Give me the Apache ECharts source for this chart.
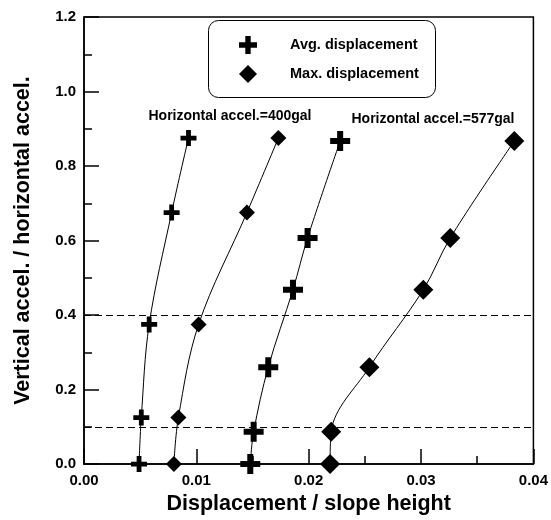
<!DOCTYPE html>
<html>
<head>
<meta charset="utf-8">
<script src="https://cdn.jsdelivr.net/npm/echarts@6/dist/echarts.min.js"></script>
<style>
  html, body { margin: 0; padding: 0; background: #fff; }
  #chart { width: 551px; height: 520px; }
</style>
</head>
<body>
<div id="chart"></div>
<script>
// Vertical / horizontal acceleration ratios of each shaking case
const ratio400 = [0, 0.125, 0.375, 0.675, 0.875];
const ratio577 = [0, 0.0867, 0.26, 0.468, 0.607, 0.867];

// Normalised displacement (displacement / slope height)
const avg400 = [0.0049, 0.0051, 0.0058, 0.0078, 0.0093];
const max400 = [0.0080, 0.0084, 0.0102, 0.0145, 0.0173];
const avg577 = [0.0148, 0.0151, 0.0164, 0.0186, 0.0199, 0.0228];
const max577 = [0.0219, 0.0220, 0.0254, 0.0302, 0.0326, 0.0383];

// Dashed reference levels
const refLevels = [0.1, 0.4];

const seriesNames = ['Avg. displacement', 'Max. displacement'];
const caseLabels = ['Horizontal accel.=400gal', 'Horizontal accel.=577gal'];

const FONT = '"Liberation Sans", Arial, Helvetica, sans-serif';
const PLUS = 'path://M35,0H65V35H100V65H65V100H35V65H0V35H35Z';

const pairs = (xs, ys) => xs.map((x, i) => [x, ys[i]]);

function curve(name, xs, ys, symbol, size, extra) {
  return Object.assign({
    name: name,
    type: 'line',
    data: pairs(xs, ys),
    smooth: 0.35,
    symbol: symbol,
    symbolSize: size,
    showAllSymbol: true,
    itemStyle: { color: '#000' },
    lineStyle: { color: '#000', width: 1 },
    z: 3
  }, extra || {});
}

const chart = echarts.init(document.getElementById('chart'), null, { renderer: 'canvas' });

chart.setOption({
  animation: false,
  backgroundColor: '#fff',
  textStyle: { fontFamily: FONT, color: '#000' },
  grid: {
    left: 84, right: 17, top: 17, bottom: 50,
    show: true, borderColor: '#000', borderWidth: 1.5, backgroundColor: 'transparent'
  },
  xAxis: {
    type: 'value',
    min: 0, max: 0.04, interval: 0.01,
    name: 'Displacement / slope height',
    nameLocation: 'middle',
    nameGap: 28,
    nameTextStyle: { fontFamily: FONT, fontWeight: 'bold', fontSize: 21.5, color: '#000' },
    axisLine: { show: true, onZero: false, lineStyle: { color: '#000', width: 1.5 } },
    axisTick: { show: true, inside: true, length: 15, lineStyle: { color: '#000', width: 1.5 } },
    minorTick: { show: true, splitNumber: 2, length: 8, lineStyle: { color: '#000', width: 1.5 } },
    splitLine: { show: false },
    axisLabel: {
      margin: 9, fontFamily: FONT, fontWeight: 'bold', fontSize: 15, color: '#000',
      formatter: v => v.toFixed(2)
    }
  },
  yAxis: {
    type: 'value',
    min: 0, max: 1.2, interval: 0.2,
    name: 'Vertical accel. / horizontal accel.',
    nameLocation: 'middle',
    nameGap: 50,
    nameTextStyle: { fontFamily: FONT, fontWeight: 'bold', fontSize: 21.5, color: '#000' },
    axisLine: { show: true, onZero: false, lineStyle: { color: '#000', width: 1.5 } },
    axisTick: { show: true, inside: true, length: 15, lineStyle: { color: '#000', width: 1.5 } },
    minorTick: { show: true, splitNumber: 2, length: 8, lineStyle: { color: '#000', width: 1.5 } },
    splitLine: { show: false },
    axisLabel: {
      margin: 8, fontFamily: FONT, fontWeight: 'bold', fontSize: 15, color: '#000',
      formatter: v => v.toFixed(1)
    }
  },
  legend: {
    orient: 'vertical',
    left: 239, top: 36,
    padding: 0,
    itemWidth: 18, itemHeight: 18, itemGap: 11,
    selectedMode: false,
    textStyle: { fontFamily: FONT, fontWeight: 'bold', fontSize: 14.5, color: '#000', padding: [0, 0, 0, 28] },
    data: [
      { name: seriesNames[0], icon: PLUS },
      { name: seriesNames[1], icon: 'diamond' }
    ]
  },
  graphic: [
    {
      type: 'rect', left: 208, top: 20, z: 1, silent: true,
      shape: { width: 227, height: 77, r: 10 },
      style: { fill: '#fff', stroke: '#000', lineWidth: 1 }
    },
    {
      type: 'text', x: 230, y: 116.5, z: 5, silent: true,
      style: { text: caseLabels[0], font: 'bold 14px ' + FONT, fill: '#000', align: 'center', verticalAlign: 'middle' }
    },
    {
      type: 'text', x: 433, y: 119, z: 5, silent: true,
      style: { text: caseLabels[1], font: 'bold 14px ' + FONT, fill: '#000', align: 'center', verticalAlign: 'middle' }
    }
  ],
  series: [
    curve(seriesNames[0], avg400, ratio400, PLUS, 16, {
      markLine: {
        silent: true,
        symbol: 'none',
        label: { show: false },
        lineStyle: { color: '#000', width: 1, type: [7, 4] },
        data: refLevels.map(v => ({ yAxis: v }))
      }
    }),
    curve(seriesNames[1], max400, ratio400, 'diamond', 16),
    curve(seriesNames[0], avg577, ratio577, PLUS, 20),
    curve(seriesNames[1], max577, ratio577, 'diamond', 20)
  ]
});
</script>
</body>
</html>
